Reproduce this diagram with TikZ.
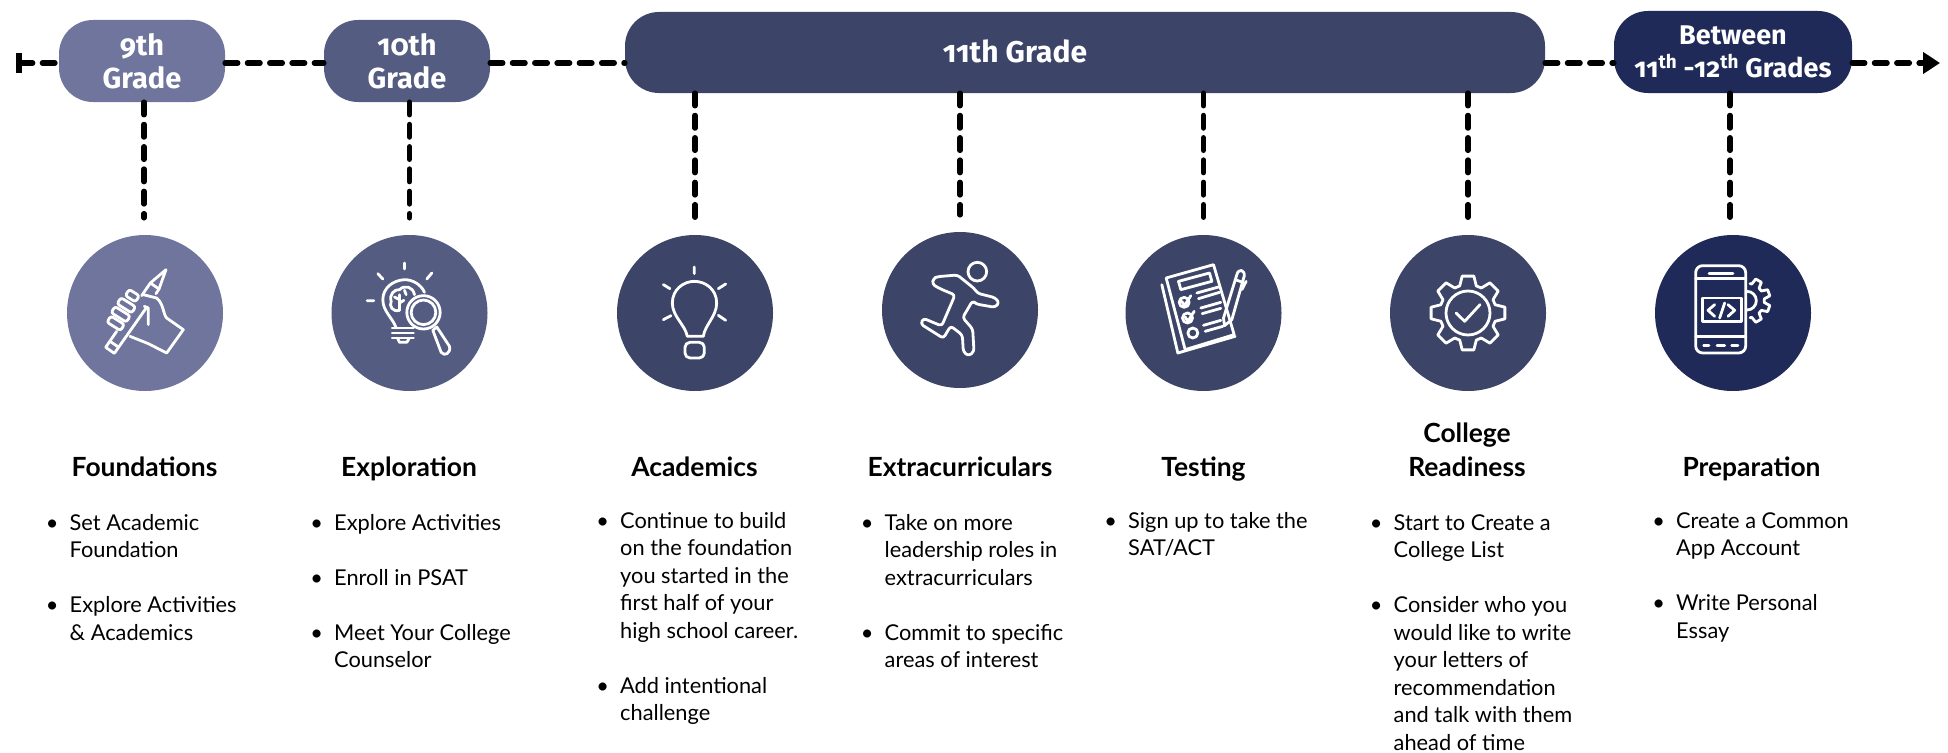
\documentclass[tikz,border=0pt]{standalone}
\usepackage{fontspec}
\setmainfont{Lato}
\newfontfamily\pillfont[Numbers=OldStyle]{Fira Sans}
\usetikzlibrary{arrows.meta}

\definecolor{shade9}{HTML}{6F759C}
\definecolor{shade10}{HTML}{545C82}
\definecolor{shade11}{HTML}{3C4468}
\definecolor{shadeb}{HTML}{1F2A58}

\newcommand{\bul}{\llap{\makebox[0pt]{\textbullet}\hspace{17.5pt}}}

\tikzset{
	pill/.style={rounded corners=34pt, text=white, align=center, inner sep=0pt,
		font=\pillfont\bfseries\fontsize{#1}{33}\selectfont},
	disc/.style={circle, minimum size=156pt, inner sep=0pt},
	title/.style={anchor=base, align=center, font=\bfseries\fontsize{26.4}{34}\selectfont},
	points/.style={anchor=north west, align=left, inner sep=0pt, font=\fontsize{21.8}{27.5}\selectfont},
	dashline/.style={line width=5.5pt, line cap=round, dash pattern=on 12.5pt off 9.8pt},
	icon/.style={x=.3333pt, y=-.3333pt, xshift=-60pt, yshift=60pt, white, line width=2.8pt,
		line cap=round, line join=round}
}

\begin{document}
\begin{tikzpicture}[x=1pt, y=-1pt]
		\useasboundingbox (0,0) rectangle (1948,752);

		% grade pills
		\node (grade9) [pill=29, fill=shade9, minimum width=166pt, minimum height=82pt] at (142,61) {9th\\Grade};
		\node (grade10) [pill=29, fill=shade10, minimum width=166pt, minimum height=82pt] at (407,61) {10th\\Grade};
		\node (grade11) [pill=30, fill=shade11, minimum width=920pt, minimum height=81pt] at (1085,52.5) {};
		\node (label11) [pill=30] at (1015,51) {11th Grade};
		\node (gradeb) [pill=27, fill=shadeb, minimum width=238pt, minimum height=82pt] at (1733,52) {Between\\11\textsuperscript{th} -12\textsuperscript{th} Grades};

		% circles
		\node (foundations) [disc, fill=shade9] at (145,313) {};
		\node (exploration) [disc, fill=shade10] at (409.5,313) {};
		\node (academics) [disc, fill=shade11] at (695,313) {};
		\node (extras) [disc, fill=shade11] at (960,310) {};
		\node (testing) [disc, fill=shade11] at (1203.5,313) {};
		\node (readiness) [disc, fill=shade11] at (1468,313) {};
		\node (preparation) [disc, fill=shadeb] at (1733,313) {};

		% timeline
		\coordinate (tl) at (0,63);
		\coordinate (tstart) at (16,63);
		\coordinate (tend) at (1940,63);
		\path[dashline]
		(tstart) edge [{Bar[width=20pt,length=5pt]}-] (grade9.west |- tl)
		(grade9.east |- tl) edge (grade10.west |- tl)
		(grade10.east |- tl) edge (grade11.west |- tl)
		(grade11.east |- tl) edge (gradeb.west |- tl)
		(gradeb.east |- tl) edge [-{Triangle[length=17pt,width=21pt]}] (tend);

		% drops to the circles
		\path[dashline, shorten >=17pt]
		([xshift=-1pt]foundations |- grade9.south) edge ([xshift=-1pt]foundations.north)
		(exploration |- grade10.south) edge (exploration)
		(academics |- grade11.south) edge (academics)
		(extras |- grade11.south) edge (extras)
		(testing |- grade11.south) edge (testing)
		(readiness |- grade11.south) edge (readiness)
		([xshift=-3pt]preparation |- gradeb.south) edge ([xshift=-3pt]preparation.north);

		% titles
		\node (t1) [title] at (144.5,476) {Foundations};
		\node (t2) [title] at (409,476) {Exploration};
		\node (t3) [title] at (694.5,476) {Academics};
		\node (t4) [title] at (960,476) {Extracurriculars};
		\node (t5) [title] at (1203.5,476) {Testing};
		\node (t6) [title] at (1467,476) {College\\Readiness};
		\node (t7) [title] at (1751.5,476) {Preparation};

		% lists
		\node (l1) [points] at (69.5,514) {\bul Set Academic\\Foundation\\[27.5pt]\bul Explore Activities\\\& Academics};
		\node (l2) [points] at (334,514) {\bul Explore Activities\\[27.5pt]\bul Enroll in PSAT\\[27.5pt]\bul Meet Your College\\Counselor};
		\node (l3) [points] at (620,512) {\bul Continue to build\\on the foundation\\you started in the\\first half of your\\high school career.\\[27.5pt]\bul Add intentional\\challenge};
		\node (l4) [points] at (884.5,514) {\bul Take on more\\leadership roles in\\extracurriculars\\[27.5pt]\bul Commit to specific\\areas of interest};
		\node (l5) [points] at (1128,512) {\bul Sign up to take the\\SAT/ACT};
		\node (l6) [points] at (1393.5,514) {\bul Start to Create a\\College List\\[27.5pt]\bul Consider who you\\would like to write\\your letters of\\recommendation\\and talk with them\\ahead of time};
		\node (l7) [points] at (1676,512) {\bul Create a Common\\App Account\\[27.5pt]\bul Write Personal\\Essay};

		% hand and pencil
		\begin{scope}[shift={(foundations.center)}, icon]
			\draw (95,235) -- (62,283) -- (88,301) -- (185,163);
			\draw (170,128) -- (196,90) -- (243,50) -- (222,108) -- (213,122);
			\draw (196,90) -- (222,108);
			\draw (75,265) -- (100,282);
			\draw[rotate around={-32:(142,128)}, rounded corners=2.5pt] (124,117) rectangle (160,139);
			\draw[rotate around={-32:(124,157)}, rounded corners=2.5pt] (98,146) rectangle (150,168);
			\draw[rotate around={-32:(107,184)}, rounded corners=2.5pt] (80,173) rectangle (134,195);
			\draw[rotate around={-32:(92,211)}, rounded corners=2.5pt] (68,200) rectangle (116,222);
			\draw (175,125) -- (215,135) .. controls (235,150) and (235,185) .. (245,195) -- (295,230) -- (245,300) -- (190,272) -- (135,250);
			\draw (178,160) -- (190,165) -- (190,215);
		\end{scope}

		% bulb, brain and lens
		\begin{scope}[shift={(exploration.center)}, icon]
			\draw (165,30) -- (165,48) (85,62) -- (100,78) (247,60) -- (232,78) (53,143) -- (73,143);
			\draw (140,225) .. controls (130,195) and (100,175) .. (100,140) .. controls (100,105) and (130,82) .. (165,80) .. controls (190,80) and (215,95) .. (225,118);
			\draw (128,225) -- (192,225) (128,240) -- (192,240) (128,255) -- (192,255);
			\draw (145,258) -- (150,268) -- (172,268) -- (178,258);
			\draw (150,172) .. controls (130,178) and (118,160) .. (125,145) .. controls (118,125) and (135,108) .. (150,110) .. controls (165,95) and (190,100) .. (195,125);
			\draw (150,172) -- (150,125) (150,140) -- (135,132) (150,150) -- (163,142) (170,125) -- (165,112);
			\draw (222,178) circle (50);
			\draw (222,178) circle (37);
			\draw (250,232) -- (262,222) -- (300,280) .. controls (305,300) and (285,312) .. (275,298) -- cycle;
		\end{scope}

		% bulb
		\begin{scope}[shift={(academics.center)}, icon]
			\draw (178,42) -- (178,62) (85,95) -- (105,107) (250,107) -- (272,93) (85,200) -- (108,188) (250,187) -- (272,202);
			\draw (157,250) .. controls (150,215) and (112,190) .. (112,150) .. controls (112,110) and (145,85) .. (178,85) .. controls (212,85) and (245,110) .. (245,150) .. controls (245,190) and (210,215) .. (205,250) -- cycle;
			\draw[rounded corners=5pt] (150,268) rectangle (208,315);
		\end{scope}

		% runner
		\begin{scope}[shift={(extras.center)}, icon]
			\draw (232,65) circle (28);
			\draw[rounded corners=3pt] (113,80) -- (172,75) -- (222,115) -- (233,130) -- (285,143) -- (298,158) -- (285,172) -- (228,162) -- (218,152) -- (188,203) -- (218,237) -- (222,305) -- (205,318) -- (190,305) -- (187,255) -- (152,228) -- (130,265) -- (62,222) -- (70,205) -- (125,228) -- (165,135) -- (122,117) -- (97,103) -- (100,85) -- cycle;
		\end{scope}

		% checklist and pen
		\begin{scope}[shift={(testing.center)}, icon]
			\draw (68,75) -- (210,35) -- (272,245) -- (125,290) -- cycle;
			\draw (55,95) -- (103,300) -- (275,250);
			\draw (105,85) -- (198,60) -- (205,85) -- (112,110) -- cycle;
			\draw (160,120) -- (225,102) (165,137) -- (228,118) (172,165) -- (232,148) (176,182) -- (232,166) (180,217) -- (232,202) (185,235) -- (238,220);
			\draw (122,148) circle (15) (132,195) circle (15) (148,240) circle (15);
			\draw (115,145) -- (123,158) -- (142,128) (125,192) -- (133,205) -- (152,175);
			\draw (240,195) -- (280,65) .. controls (285,45) and (305,50) .. (302,70) -- (265,200) -- (243,218) -- cycle;
			\draw (275,80) -- (298,88) (295,110) -- (308,85);
		\end{scope}

		% gear with tick
		\begin{scope}[shift={(readiness.center)}, icon]
			\begin{scope}[shift={(180,180)}]
				\draw (-17:85) \foreach \ang in {0,45,...,315} {-- (\ang-17:85) -- (\ang-9:112) -- (\ang+9:112) -- (\ang+17:85)} -- cycle;
				\draw (0,0) circle (66);
				\draw (-36,0) -- (-10,25) -- (36,-25);
			\end{scope}
		\end{scope}

		% phone with gear
		\begin{scope}[shift={(preparation.center)}, icon]
			\draw[rounded corners=7pt] (68,38) rectangle (218,300);
			\draw (68,76) -- (218,76) (68,250) -- (218,250) (108,62) -- (180,62);
			\draw (92,277) -- (108,277) (132,277) -- (155,277) (176,277) -- (195,277);
			\draw (88,135) rectangle (205,205);
			\draw (125,155) -- (105,172) -- (125,190) (155,150) -- (140,195) (165,155) -- (185,172) -- (165,190);
			\draw (222,171) arc (90:-90:28);
			\begin{scope}[shift={(222,143)}]
				\draw (-80:52) \foreach \ang in {-60,-20,20,60} {-- (\ang-14:52) -- (\ang-8:70) -- (\ang+8:70) -- (\ang+14:52)} -- (80:52);
			\end{scope}
		\end{scope}
	\end{tikzpicture}
\end{document}
